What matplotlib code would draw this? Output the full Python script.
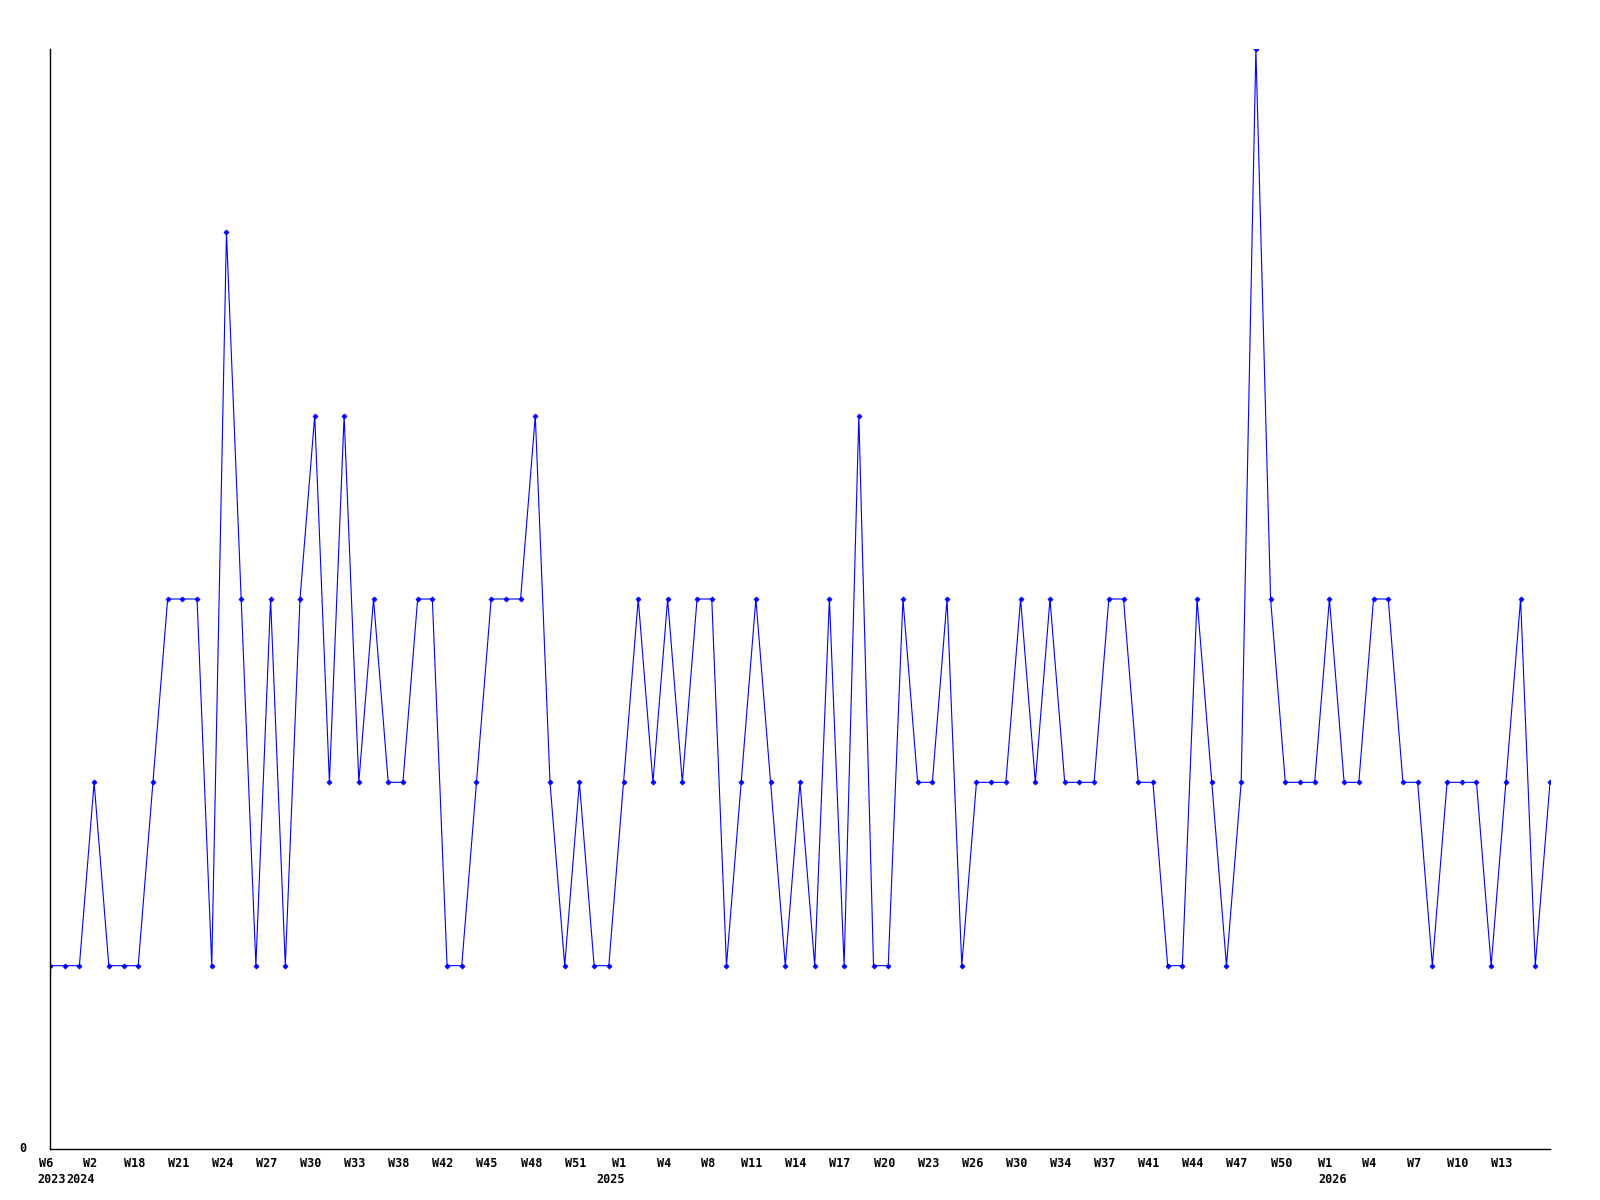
import matplotlib
matplotlib.use("Agg")
import matplotlib.pyplot as plt

# weekly values (categorical x, one point per reported week)
values = [1, 1, 1, 2, 1, 1, 1, 2, 3, 3, 3, 1, 5, 3, 1, 3, 1, 3, 4, 2,
          4, 2, 3, 2, 2, 3, 3, 1, 1, 2, 3, 3, 3, 4, 2, 1, 2, 1, 1, 2,
          3, 2, 3, 2, 3, 3, 1, 2, 3, 2, 1, 2, 1, 3, 1, 4, 1, 1, 3, 2,
          2, 3, 1, 2, 2, 2, 3, 2, 3, 2, 2, 2, 3, 3, 2, 2, 1, 1, 3, 2,
          1, 2, 6, 3, 2, 2, 2, 3, 2, 2, 3, 3, 2, 2, 1, 2, 2, 2, 1, 2,
          3, 1, 2]

# tick labels (every third point)
week_labels = ["W6", "W2", "W18", "W21", "W24", "W27", "W30", "W33", "W38",
               "W42", "W45", "W48", "W51", "W1", "W4", "W8", "W11", "W14",
               "W17", "W20", "W23", "W26", "W30", "W34", "W37", "W41", "W44",
               "W47", "W50", "W1", "W4", "W7", "W10", "W13"]
year_labels = {0: "2023", 3: "2024", 39: "2025", 87: "2026"}

W, H = 1600, 1200
fig = plt.figure(figsize=(16, 12), dpi=100)
left, right, top, bottom = 50, 1550, 49, 1149
ax = fig.add_axes([left / W, 1 - bottom / H, (right - left) / W, (bottom - top) / H])

x = list(range(len(values)))
ax.plot(x, values, color="#0000ff", linewidth=0.8, marker="D", markersize=2.6,
        markerfacecolor="#0000ff", markeredgecolor="#0000ff", markeredgewidth=0.5)

ax.set_xlim(0, len(values) - 1)
ax.set_ylim(0, 6)

for s in ("top", "right"):
    ax.spines[s].set_visible(False)
for s in ("left", "bottom"):
    ax.spines[s].set_linewidth(1.0)
    ax.spines[s].set_color("black")

font = dict(family="DejaVu Sans Mono", weight="bold", size=8.5)

tick_pos = list(range(0, len(values), 3))[:len(week_labels)]
ax.set_xticks(tick_pos)
ax.set_xticklabels([])
ax.tick_params(axis="x", length=0)
for p, lab in zip(tick_pos, week_labels):
    ax.annotate(lab, xy=(p, 0), xycoords=("data", "axes fraction"),
                xytext=(-4, -8), textcoords="offset pixels",
                ha="center", va="top", **font)

year_offsets = {0: 2, 3: -13, 39: -13, 87: 3}
for p, lab in year_labels.items():
    ax.annotate(lab, xy=(p, 0), xycoords=("data", "axes fraction"),
                xytext=(year_offsets[p], -24), textcoords="offset pixels",
                ha="center", va="top", **font)

ax.set_yticks([0])
ax.set_yticklabels([])
ax.tick_params(axis="y", length=0)
ax.annotate("0", xy=(0, 0), xycoords="axes fraction", xytext=(-27, 0),
            textcoords="offset pixels", ha="center", va="center", **font)

fig.savefig("out.png", dpi=100)
